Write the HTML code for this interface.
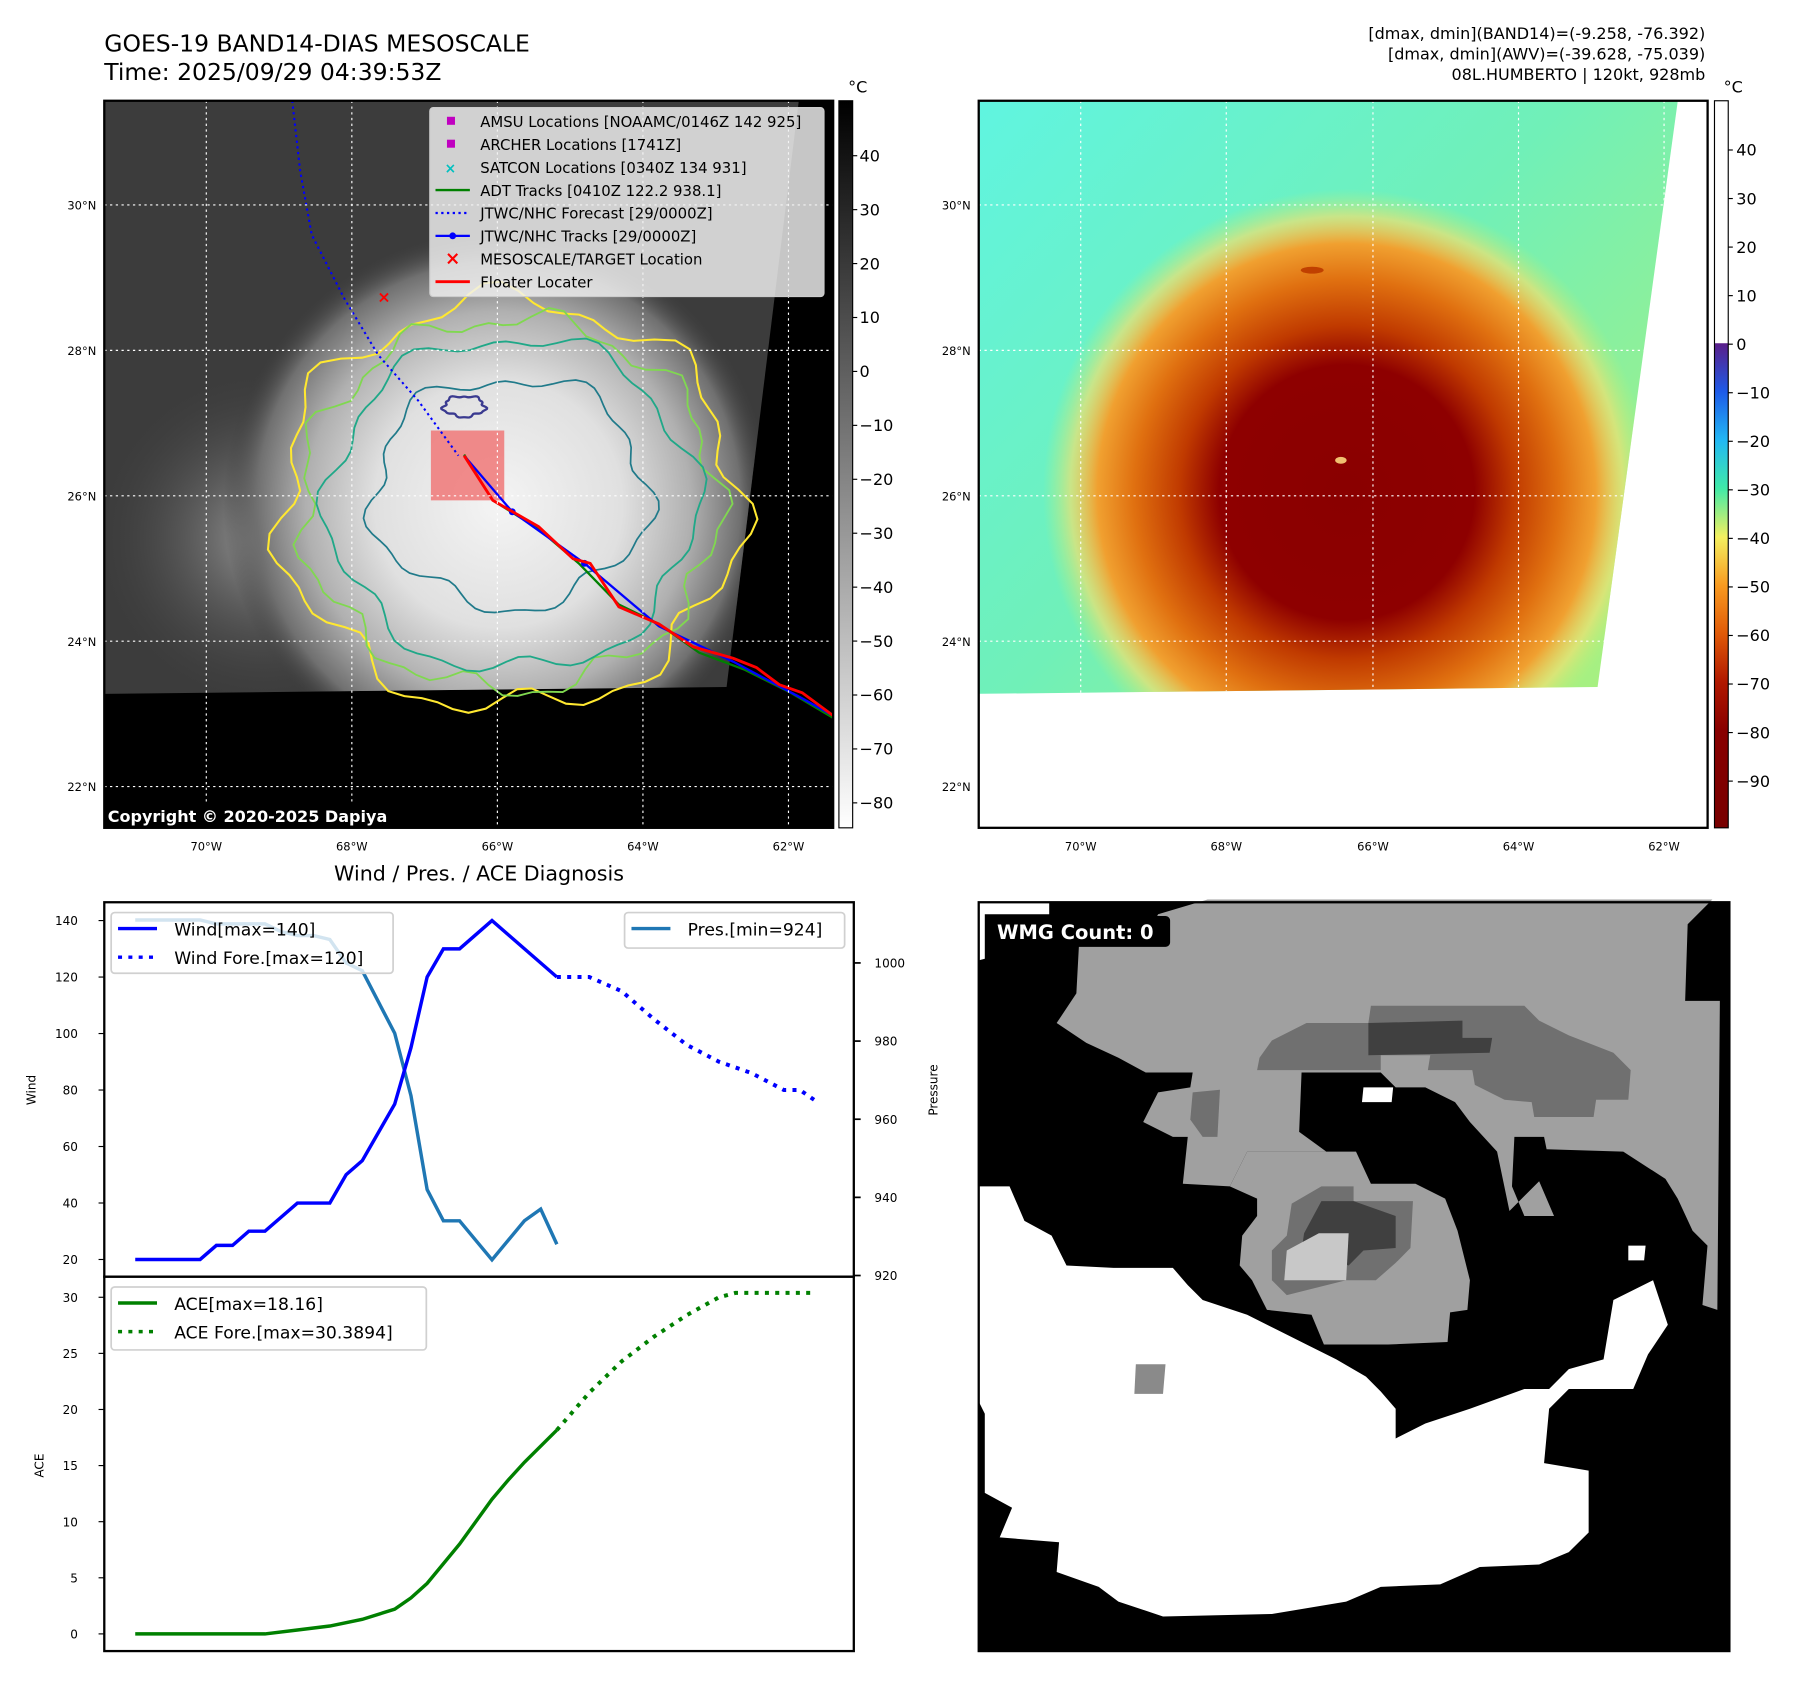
<!DOCTYPE html>
<html><head><meta charset="utf-8"><style>
html,body{margin:0;padding:0;background:#fff}
svg{display:block}
text{font-family:"DejaVu Sans","Liberation Sans",sans-serif}
</style></head><body>
<svg id="fig" xmlns="http://www.w3.org/2000/svg" width="1797" height="1690" viewBox="0 0 1568 1476" preserveAspectRatio="none">
<defs>
<radialGradient id="irDisk" cx="435" cy="440" r="240" gradientUnits="userSpaceOnUse">
<stop offset="0" stop-color="#f4f4f4"/><stop offset="0.45" stop-color="#e0e0e0"/><stop offset="0.7" stop-color="#b0b0b0"/><stop offset="0.88" stop-color="#707070"/><stop offset="1" stop-color="#3c3c3c" stop-opacity="0"/>
</radialGradient>
<radialGradient id="swBand" cx="230" cy="470" r="150" gradientUnits="userSpaceOnUse">
<stop offset="0" stop-color="#9a9a9a"/><stop offset="1" stop-color="#3c3c3c" stop-opacity="0"/>
</radialGradient>
<linearGradient id="bgRight" x1="854" y1="88" x2="1400" y2="600" gradientUnits="userSpaceOnUse">
<stop offset="0" stop-color="#60f4e0"/><stop offset="0.5" stop-color="#70f0b8"/><stop offset="1" stop-color="#a8f080"/>
</linearGradient>
<radialGradient id="hurr" cx="1175" cy="430" r="265" gradientUnits="userSpaceOnUse">
<stop offset="0" stop-color="#8a0000"/><stop offset="0.42" stop-color="#8e0000"/><stop offset="0.55" stop-color="#c03a00"/><stop offset="0.7" stop-color="#e07010"/><stop offset="0.82" stop-color="#f0a030"/><stop offset="0.91" stop-color="#f0e070" stop-opacity="0.7"/><stop offset="1" stop-color="#c0f070" stop-opacity="0"/>
</radialGradient>
<linearGradient id="cbGray" x1="0" y1="88" x2="0" y2="723" gradientUnits="userSpaceOnUse">
<stop offset="0" stop-color="#000"/><stop offset="1" stop-color="#fff"/>
</linearGradient>
<linearGradient id="cbColor" x1="0" y1="88" x2="0" y2="723" gradientUnits="userSpaceOnUse">
<stop offset="0" stop-color="#fff"/><stop offset="0.333" stop-color="#fff"/><stop offset="0.334" stop-color="#5a1f8a"/>
<stop offset="0.4" stop-color="#1e5ae8"/><stop offset="0.467" stop-color="#22b8f4"/><stop offset="0.533" stop-color="#40eaa8"/>
<stop offset="0.6" stop-color="#f4f060"/><stop offset="0.667" stop-color="#f89a20"/><stop offset="0.733" stop-color="#e05a08"/>
<stop offset="0.8" stop-color="#b01800"/><stop offset="0.867" stop-color="#880000"/><stop offset="1" stop-color="#780000"/>
</linearGradient>
<clipPath id="clipL"><rect x="91" y="88" width="636" height="635"/></clipPath>
<clipPath id="clipR"><polygon points="854,88 1464,88 1394,600 854,606"/></clipPath>
</defs>

<text x="91" y="45" font-size="20.5">GOES-19 BAND14-DIAS MESOSCALE</text>
<text x="91" y="70" font-size="20.5">Time: 2025/09/29 04:39:53Z</text>
<g font-size="14" text-anchor="end">
<text x="1488" y="34">[dmax, dmin](BAND14)=(-9.258, -76.392)</text>
<text x="1488" y="52">[dmax, dmin](AWV)=(-39.628, -75.039)</text>
<text x="1488" y="70">08L.HUMBERTO | 120kt, 928mb</text>
</g>

<g clip-path="url(#clipL)">
<rect x="91" y="88" width="636" height="635" fill="#000"/>
<polygon points="91,88 697,88 634,600 91,606" fill="#3c3c3c"/>
<g clip-path="url(#clipL)">
<polygon points="91,88 697,88 634,600 91,606" fill="url(#swBand)"/>
<polygon points="91,88 697,88 634,600 91,606" fill="url(#irDisk)"/>
</g>
<g id="contours" fill="none" stroke-width="1.8"></g>
<rect x="376" y="376" width="64" height="61" fill="#f07878" opacity="0.85"/>
<polyline points="255,88 262,150 272,205 300,260 330,310 365,350 400,398" fill="none" stroke="#0000ff" stroke-width="1.8" stroke-dasharray="2,3"/>
<polyline points="405,397 430,437 470,462 505,492 540,528 575,545 610,570 650,585 690,605 727,627" fill="none" stroke="#008000" stroke-width="2"/>
<polyline points="405,398 447,447 510,492 575,547 640,578 700,610 727,625" fill="none" stroke="#0000ff" stroke-width="2"/>
<circle cx="447" cy="447" r="3" fill="#00f"/><circle cx="510" cy="492" r="3" fill="#00f"/>
<polyline points="405,398 430,437 470,460 500,488 515,492 540,530 575,545 605,565 640,575 660,583 680,598 700,605 727,625" fill="none" stroke="#ff0000" stroke-width="2.5"/>
<text x="335" y="264" font-size="14" fill="#f00" font-weight="bold" text-anchor="middle">×</text>
<g id="gridL" stroke="#fff" stroke-width="1" stroke-dasharray="2,3"></g>
</g>
<rect x="91" y="88" width="636" height="635" fill="none" stroke="#000" stroke-width="2"/>
<rect x="91" y="701" width="270" height="22" fill="#000"/>
<text x="94" y="718" font-size="14" font-weight="bold" fill="#fff">Copyright © 2020-2025 Dapiya</text>

<g>
<rect x="375" y="94" width="344" height="165" rx="3" fill="#f2f2f2" fill-opacity="0.82" stroke="#ccc"/>
<g font-size="13" fill="#000">
<rect x="390" y="102" width="7" height="7" fill="#c000c0"/><text x="419" y="111">AMSU Locations [NOAAMC/0146Z 142 925]</text>
<rect x="390" y="122" width="7" height="7" fill="#c000c0"/><text x="419" y="131">ARCHER Locations [1741Z]</text>
<text x="393" y="151" font-size="12" fill="#00c0c0" text-anchor="middle" font-weight="bold">×</text><text x="419" y="151">SATCON Locations [0340Z 134 931]</text>
<line x1="380" y1="166" x2="410" y2="166" stroke="#008000" stroke-width="2"/><text x="419" y="171">ADT Tracks [0410Z 122.2 938.1]</text>
<line x1="380" y1="186" x2="410" y2="186" stroke="#00f" stroke-width="2" stroke-dasharray="2,3"/><text x="419" y="191">JTWC/NHC Forecast [29/0000Z]</text>
<line x1="380" y1="206" x2="410" y2="206" stroke="#00f" stroke-width="2"/><circle cx="395" cy="206" r="3" fill="#00f"/><text x="419" y="211">JTWC/NHC Tracks [29/0000Z]</text>
<text x="395" y="231" font-size="16" fill="#f00" text-anchor="middle" font-weight="bold">×</text><text x="419" y="231">MESOSCALE/TARGET Location</text>
<line x1="380" y1="246" x2="410" y2="246" stroke="#f00" stroke-width="2.5"/><text x="419" y="251">Floater Locater</text>
</g></g>

<rect x="732" y="88" width="12" height="635" fill="url(#cbGray)" stroke="#000" stroke-width="1"/>
<text x="740" y="81" font-size="14">°C</text>
<g id="cbL" font-size="14"></g>

<g>
<rect x="854" y="88" width="636" height="635" fill="#fff"/>
<g clip-path="url(#clipR)">
<rect x="854" y="88" width="636" height="520" fill="url(#bgRight)"/>
<ellipse cx="1175" cy="430" rx="265" ry="265" fill="url(#hurr)"/>
<ellipse cx="1170" cy="402" rx="5" ry="3" fill="#f0c070"/>
<ellipse cx="1145" cy="236" rx="10" ry="3" fill="#c04000"/>
<g id="gridR" stroke="#fff" stroke-width="1" stroke-dasharray="2,3"></g>
</g>
<rect x="854" y="88" width="636" height="635" fill="none" stroke="#000" stroke-width="2"/>
</g>
<rect x="1496" y="88" width="12" height="635" fill="url(#cbColor)" stroke="#000" stroke-width="1"/>
<text x="1504" y="81" font-size="14">°C</text>
<g id="cbR" font-size="14"></g>
<g id="mapTicks" font-size="10"></g>

<text x="418" y="769" font-size="18" text-anchor="middle">Wind / Pres. / ACE Diagnosis</text>
<g id="chart"></g>

<g>
<rect x="854" y="788" width="655" height="654" fill="#000"/>
<g id="wmg"></g>
<rect x="854" y="788" width="655" height="654" fill="none" stroke="#000" stroke-width="2"/>
<rect x="863" y="800" width="158" height="27" rx="4" fill="#000"/>
<text x="870" y="820" font-size="17" font-weight="bold" fill="#fff">WMG Count: 0</text>
</g>
</svg>
<script>
// ---- Chart data ----
const windIdx = [0,4,5,6,7,8,10,12,13,14,16,17,18,19,20,22,26];
const windVal = [20,20,25,25,30,30,40,40,50,55,75,95,120,130,130,140,120];
const windForeIdx = [26,28,30,32,34,36,38,40,41,42];
const windForeVal = [120,120,115,105,96,90,86,80,80,76];
const presIdx = [0,4,5,8,9,10,11,12,13,14,16,17,18,19,20,22,24,25,26];
const presVal = [1011,1011,1010,1010,1008,1007,1007,1006,1000,998,982,966,942,934,934,924,934,937,928];
const aceIdx = [0,8,10,12,14,16,17,18,20,22,23,24,26];
const aceVal = [0,0,0.35,0.7,1.3,2.2,3.2,4.5,8,12,13.7,15.3,18.16];
const aceForeIdx = [26,28,30,32,34,36,37,42];
const aceForeVal = [18.16,21.5,24.3,26.5,28.4,30,30.39,30.39];
const windTicks = [20,40,60,80,100,120,140];
const presTicks = [920,940,960,980,1000];
const aceTicks = [0,5,10,15,20,25,30];

const NS="http://www.w3.org/2000/svg";
function mk(tag,attrs,parent,txt){const e=document.createElementNS(NS,tag);for(const k in attrs)e.setAttribute(k,attrs[k]);if(txt!==undefined)e.textContent=txt;parent.appendChild(e);return e;}

const xT = i => 118 + i*14.15;
const yW = v => 1100 - (v-20)*(296/120);
const yP = v => 1114 - (v-920)*(273/80);
const yA = v => 1427 - v*(294/30);

const ch=document.getElementById('chart');
let f1=mk('rect',{x:91,y:788,width:654,height:327,fill:'none',stroke:'#000','stroke-width':2},ch);


let f2=mk('rect',{x:91,y:1115,width:654,height:327,fill:'none',stroke:'#000','stroke-width':2},ch);


windTicks.forEach(v=>{const y=yW(v);mk('line',{x1:86,x2:91,y1:y,y2:y,stroke:'#000'},ch);
 const t=mk('text',{x:68,y:y+4,'font-size':10.5,'text-anchor':'end'},ch,v);
 
 });
presTicks.forEach(v=>{const y=yP(v);mk('line',{x1:745,x2:751,y1:y,y2:y,stroke:'#000','stroke-width':1.5},ch);
 const t=mk('text',{x:763,y:y+4,'font-size':10.5},ch,v);
 
 });
aceTicks.forEach(v=>{const y=yA(v);mk('line',{x1:86,x2:91,y1:y,y2:y,stroke:'#000'},ch);
 const t=mk('text',{x:68,y:y+4,'font-size':10.5,'text-anchor':'end'},ch,v);
 
 });
let l1=mk('text',{x:0,y:0,'font-size':10.5,'text-anchor':'middle',transform:'translate(31,952) rotate(-90)'},ch,'Wind');


let l2=mk('text',{x:0,y:0,'font-size':10.5,'text-anchor':'middle',transform:'translate(818,952) rotate(-90)'},ch,'Pressure');


let l3=mk('text',{x:0,y:0,'font-size':10.5,'text-anchor':'middle',transform:'translate(38,1280) rotate(-90)'},ch,'ACE');



function pts(ix,vals,yf){return ix.map((i,k)=>xT(i).toFixed(1)+','+yf(vals[k]).toFixed(1)).join(' ');}
let s;
s=mk('polyline',{points:pts(presIdx,presVal,yP),fill:'none',stroke:'#1f77b4','stroke-width':3},ch);


s=mk('polyline',{points:pts(windIdx,windVal,yW),fill:'none',stroke:'#0000ff','stroke-width':3},ch);


s=mk('polyline',{points:pts(windForeIdx,windForeVal,yW),fill:'none',stroke:'#0000ff','stroke-width':3.5,'stroke-dasharray':'3.5,5.5'},ch);


s=mk('polyline',{points:pts(aceIdx,aceVal,yA),fill:'none',stroke:'#008000','stroke-width':3},ch);


s=mk('polyline',{points:pts(aceForeIdx,aceForeVal,yA),fill:'none',stroke:'#008000','stroke-width':3.5,'stroke-dasharray':'3.5,5.5'},ch);



function legend(x,y,w,h,items,name){
 const g=mk('g',{},ch);
 
 
 mk('rect',{x:x,y:y,width:w,height:h,rx:3,fill:'#fff','fill-opacity':0.8,stroke:'#d0d0d0','stroke-width':1.5},g);
 items.forEach((it,k)=>{const yy=y+14+k*25;
  mk('line',{x1:x+6,x2:x+40,y1:yy,y2:yy,stroke:it.c,'stroke-width':3,'stroke-dasharray':it.d||'none'},g);
  mk('text',{x:x+55,y:yy+6,'font-size':15},g,it.t);});
}
legend(97,797,246,53,[{c:'#0000ff',t:'Wind[max=140]'},{c:'#0000ff',d:'3.5,5.5',t:'Wind Fore.[max=120]'}],'wind-legend');
legend(545,797,192,31,[{c:'#1f77b4',t:'Pres.[min=924]'}],'pressure-legend');
legend(97,1124,275,55,[{c:'#008000',t:'ACE[max=18.16]'},{c:'#008000',d:'3.5,5.5',t:'ACE Fore.[max=30.3894]'}],'ace-legend');

const cbL=document.getElementById('cbL');
[40,30,20,10,0,-10,-20,-30,-40,-50,-60,-70,-80].forEach((v,k)=>{const y=136+k*47.1;
 mk('line',{x1:744,x2:748,y1:y,y2:y,stroke:'#000'},cbL);
 mk('text',{x:750,y:y+5},cbL,(v<0?'\u2212'+(-v):v));});
const cbR=document.getElementById('cbR');
[40,30,20,10,0,-10,-20,-30,-40,-50,-60,-70,-80,-90].forEach((v,k)=>{const y=131+k*42.4;
 mk('line',{x1:1508,x2:1512,y1:y,y2:y,stroke:'#000'},cbR);
 mk('text',{x:1515,y:y+5},cbR,(v<0?'\u2212'+(-v):v));});

const lats=[['30°N',179],['28°N',306],['26°N',433],['24°N',560],['22°N',687]];
const lonsL=[['70°W',180],['68°W',307],['66°W',434],['64°W',561],['62°W',688]];
const lonsR=[['70°W',943],['68°W',1070],['66°W',1198],['64°W',1325],['62°W',1452]];
const gL=document.getElementById('gridL'),gR=document.getElementById('gridR'),mt=document.getElementById('mapTicks');
lats.forEach(([t,y])=>{mk('line',{x1:91,x2:727,y1:y,y2:y},gL);mk('line',{x1:854,x2:1490,y1:y,y2:y},gR);
 mk('text',{x:84,y:y+4,'text-anchor':'end'},mt,t);mk('text',{x:847,y:y+4,'text-anchor':'end'},mt,t);});
lonsL.forEach(([t,x])=>{mk('line',{x1:x,x2:x,y1:88,y2:723},gL);mk('text',{x:x,y:743,'text-anchor':'middle'},mt,t);});
lonsR.forEach(([t,x])=>{mk('line',{x1:x,x2:x,y1:88,y2:723},gR);mk('text',{x:x,y:743,'text-anchor':'middle'},mt,t);});

const ct=document.getElementById('contours');
function ring(cx,cy,rx,ry,amp,fr,ph,col,w){let d='';for(let a=0;a<=360;a+=4){const r=a*Math.PI/180;const m=1+amp*Math.sin(fr*r+ph)+amp*0.6*Math.sin((fr*2+1)*r+ph*2);
 d+=(a?'L':'M')+(cx+rx*m*Math.cos(r)).toFixed(1)+','+(cy+ry*m*Math.sin(r)).toFixed(1);}
 mk('path',{d:d+'Z',stroke:col,'stroke-width':w},ct);}
ring(445,440,200,178,0.06,7,0.5,'#ffe830',1.8);
ring(445,440,182,162,0.05,9,1.2,'#80d850',1.6);
ring(447,440,160,145,0.05,6,2.0,'#20a888',1.6);
ring(445,430,120,100,0.07,5,0.3,'#207a8a',1.5);
ring(405,355,18,9,0.1,5,0,'#3a3a90',2);

const wm=document.getElementById('wmg');
function cv(p){return p.map(([x,y])=>((980+x/2.01)/1.152).toFixed(1)+','+((900+y/2.01)/1.152).toFixed(1)).join(' ');}
function poly(p,fill){mk('polygon',{points:cv(p),fill:fill},wm);}
poly([[165,260],[205,200],[210,105],[340,100],[370,40],[470,10],[1490,10],[1440,60],[1435,215],[1505,215],[1500,840],[1470,830],[1480,710],[1450,680],[1420,615],[1395,575],[1310,520],[1155,515],[1150,490],[1090,490],[1085,590],[1110,650],[1170,650],[1140,580],[1080,640],[1055,520],[1000,460],[970,420],[910,390],[850,390],[820,360],[660,360],[655,480],[710,520],[640,520],[550,520],[515,590],[420,585],[430,490],[400,490],[340,460],[370,400],[435,390],[440,360],[345,360],[290,330],[225,300]],'#a0a0a0');
poly([[600,295],[670,260],[795,260],[800,225],[1110,225],[1140,255],[1200,285],[1290,320],[1325,355],[1320,415],[1255,415],[1250,450],[1130,450],[1125,420],[1070,415],[1010,385],[1005,355],[915,355],[920,325],[820,325],[820,355],[570,355],[575,330]],'#707070');
poly([[795,260],[985,255],[985,290],[1045,290],[1040,320],[795,325]],'#404040');
poly([[440,400],[495,395],[490,490],[460,490],[435,455]],'#707070');
poly([[515,590],[550,520],[770,520],[800,585],[890,585],[950,615],[975,680],[1000,780],[995,840],[960,845],[955,905],[835,910],[705,910],[680,850],[590,840],[560,780],[535,750],[540,690],[570,650],[570,615]],'#a0a0a0');
poly([[700,590],[765,590],[765,620],[885,620],[880,715],[850,745],[810,780],[750,780],[630,810],[600,780],[600,720],[630,690],[640,625]],'#707070');
poly([[700,620],[765,620],[850,650],[850,715],[785,720],[755,750],[660,720],[665,685]],'#404040');
poly([[695,685],[755,685],[750,780],[625,780],[630,720]],'#c8c8c8');
poly([[0,590],[70,590],[100,660],[155,690],[185,750],[280,755],[400,755],[430,790],[460,820],[550,850],[610,880],[670,910],[730,940],[790,975],[820,1005],[850,1040],[850,1100],[910,1070],[1000,1040],[1110,1000],[1160,1000],[1200,960],[1270,940],[1290,820],[1370,780],[1400,870],[1360,930],[1330,1000],[1200,1000],[1160,1040],[1150,1150],[1240,1165],[1240,1290],[1200,1330],[1140,1355],[1020,1360],[940,1395],[820,1400],[750,1430],[600,1455],[380,1460],[290,1430],[250,1400],[165,1370],[170,1310],[50,1300],[75,1240],[20,1210],[20,1050],[5,1020],[5,540]],'#ffffff');
poly([[325,950],[385,950],[380,1010],[322,1010]],'#8a8a8a');
poly([[1320,710],[1355,710],[1352,740],[1320,740]],'#ffffff');
poly([[785,390],[845,390],[842,420],[782,420]],'#ffffff');
poly([[0,10],[150,10],[150,40],[20,40],[20,130],[0,135]],'#ffffff');
</script>
</body></html>
